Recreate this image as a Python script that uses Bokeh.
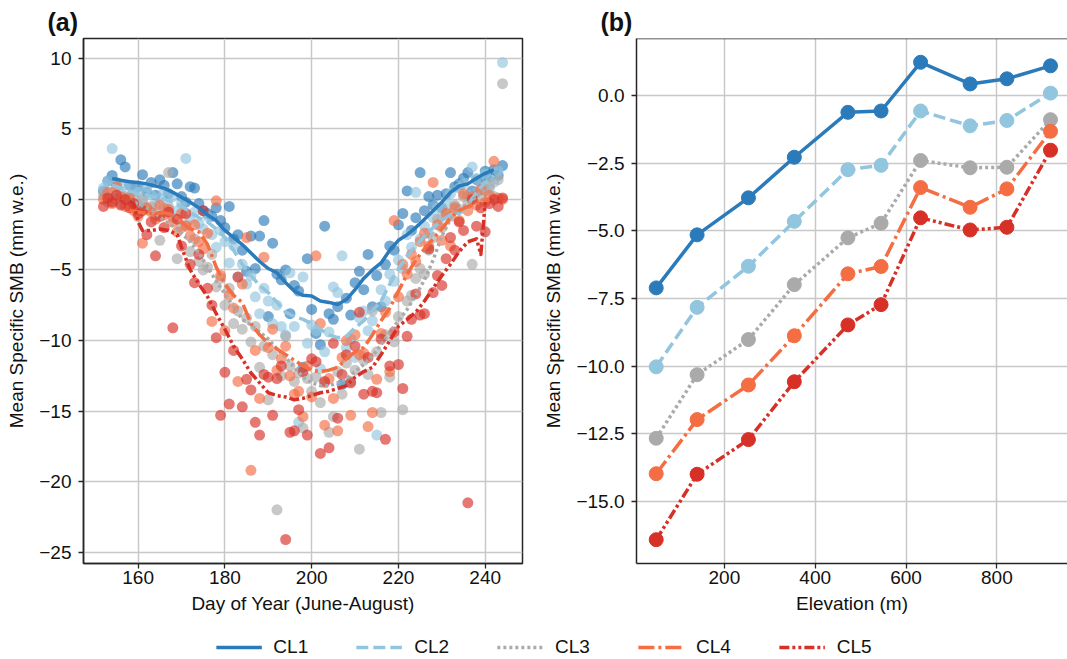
from bokeh.plotting import figure
from bokeh.layouts import column, row
from bokeh.models import (Legend, LegendItem, Range1d, FixedTicker,
                          CustomJSTickFormatter, Span)
from bokeh.embed import file_html
from bokeh.resources import INLINE

# ---------------- data ----------------
CLUSTERS = ["CL1", "CL2", "CL3", "CL4", "CL5"]
COLORS = ["#2b7bba", "#92c5de", "#aaaaaa", "#f46d43", "#d73027"]
DASHES = ["solid", "12 5", "3 3", "16 4 3 4", "10 3 3 3 3 3"]

# panel (a): daily scatter, day of year 152..244
DAY = list(range(152, 245))
cl1_pts = [0.6, 1.3, 1.7, 1.2, 2.8, 2.3, 1.0, 0.7, 0.9, 1.75, 0.5, 1.2, 0.3, 1.4, 1.0, 0.4, 1.9, 1.1,
           0.2, -0.2, 0.9, 0.8, -0.3, -0.8, -1.0, -1.2, -0.6, -1.5, -2.0, -0.5, -2.8, -2.5, -3.6, -5.1,
           -2.6, -4.9, -2.6, -1.5, -8.3, -3.1, -5.3, -5.7, -5.0, -8.1, -6.1, -6.5, -11.9, -4.2, -7.8,
           -9.5, -10.3, -1.9, -8.1, -8.5, -7.6, -13.1, -7.0, -8.2, -5.9, -5.1, -6.4, -3.9, -7.6, -5.4,
           -7.6, -4.6, -3.3, -3.6, -1.8, -1.0, 0.6, -2.2, -1.3, 1.9, -0.8, 0.2, -0.4, 0.3, -0.6, 0.4,
           1.9, 0.9, 1.1, 1.5, 1.9, 0.6, 1.4, 1.3, 2.0, 1.6, 2.1, 1.7, 2.4]
cl2_pts = [0.8, 1.3, 3.6, 1.1, 0.4, 1.0, 0.2, 0.7, 0.5, -0.2, 0.9, 0.3, -0.4, 0.1, 0.6, -0.5, 0.2,
           -0.8, -0.3, 2.9, -1.4, -0.9, -1.7, -2.1, -1.2, -2.5, -3.4, -2.2, -3.0, -4.5, -3.3, -5.5,
           -4.6, -6.0, -5.4, -6.9, -8.1, -6.3, -7.2, -8.8, -7.5, -9.0, -9.6, -5.2, -9.0, -15.8, -5.5,
           -10.2, -8.9, -9.3, -12.0, -10.8, -9.4, -6.2, -6.6, -4.0, -10.5, -9.9, -11.2, -8.4, -7.9,
           -9.3, -8.6, -16.7, -6.4, -7.2, -5.3, -5.8, -4.3, -4.9, -2.5, -3.4, 0.5, -2.8, -1.9, -2.4,
           -1.3, -0.6, -1.2, -0.2, 0.4, -0.5, 0.8, 1.1, 0.3, 2.3, 1.5, 0.9, 1.8, 0.8, 1.2, 2.0, 9.7]
cl3_pts = [0.3, -0.2, 0.5, 0.0, -0.3, 0.2, -0.1, 0.1, -0.4, 0.0, -0.7, -0.5, -1.1, -2.9, -0.6, 1.9,
           -1.3, -4.2, -2.0, -1.8, -3.7, -2.8, -4.4, -5.0, -4.8, -3.9, -6.2, -5.6, -7.5, -6.3, -8.8,
           -7.9, -9.2, -8.4, -10.1, -9.0, -11.9, -10.4, -14.2, -11.0, -22.0, -12.5, -9.7, -11.8, -12.9,
           -12.3, -16.2, -12.7, -13.6, -12.6, -14.4, -13.0, -16.5, -15.4, -12.2, -13.8, -11.6, -12.9,
           -12.1, -17.7, -11.4, -12.4, -7.9, -10.8, -15.1, -9.6, -12.6, -10.1, -8.3, -14.9, -7.2, -6.8,
           -5.6, -4.9, -5.3, -3.6, -2.7, -1.4, -2.0, -0.9, -1.2, -0.4, -0.7, 0.2, -0.3, -4.6, 0.5, 0.1,
           0.6, 1.0, 0.2, 1.4, 8.2]
cl4_pts = [0.0, 0.5, -0.3, 0.9, 0.2, -0.5, 0.1, -0.8, -1.2, -3.1, -0.6, -0.9, -1.4, -0.4, -1.1, -0.7,
           -1.6, -2.3, -1.0, -1.9, -2.6, -1.8, -3.0, -3.5, -2.4, -8.65, -0.1, -5.4, -9.3, -6.8, -7.7,
           -12.9, -6.0, -2.7, -19.2, -10.7, -14.1, -4.1, -10.5, -9.2, -12.1, -11.3, -10.4, -12.5, -13.8,
           -13.6, -15.4, -11.8, -14.0, -4.0, -8.8, -16.0, -12.7, -14.1, -16.4, -11.2, -10.0, -15.3,
           -9.6, -11.0, -10.9, -16.1, -15.1, -12.75, -9.5, -8.0, -12.2, -1.5, -6.9, -4.6, -5.3, -3.9,
           -4.4, -3.0, -2.4, -3.3, 1.2, -1.8, -2.9, -1.0, -3.3, -0.6, -1.5, 0.4, -0.8, 0.2, -0.4, 0.7,
           -0.2, 0.3, 2.7, 0.1, 0.0]
cl5_pts = [-0.5, 0.1, -0.2, 0.3, -0.4, 0.0, -0.6, -0.3, -1.0, -0.8, -2.5, -1.6, -4.0, -1.2, -2.0,
           -0.9, -9.1, -1.4, -3.3, -1.0, -4.6, -5.9, -3.9, -0.8, -6.3, -7.5, -9.8, -15.3, -12.25,
           -14.5, -10.7, -5.5, -14.7, -12.75, -13.5, -15.8, -16.7, -12.4, -12.6, -15.3, -12.7, -11.8,
           -24.1, -16.5, -16.4, -14.9, -12.2, -16.7, -11.3, -11.5, -18.0, -12.9, -17.6, -10.2, -15.5,
           -12.4, -11.0, -13.0, -10.4, -8.0, -13.8, -11.2, -13.6, -13.7, -9.9, -17.0, -11.8, -9.4,
           -11.7, -13.4, -9.7, -8.5, -6.7, -8.2, -8.1, -3.5, -6.6, -5.4, -6.1, -4.2, -2.7, -3.6, -1.6,
           -2.2, -21.5, 0.0, -1.9, -0.6, -2.3, -0.3, 0.0, -0.5, 0.1]

# panel (a): smoothed lines
cl1_line_day = [154, 156, 158, 160, 162, 164, 166, 168, 170, 172, 174, 176, 178, 180, 182, 184, 186,
                188, 190, 192, 194, 196, 198, 200, 202, 204, 206, 208, 210, 212, 214, 216, 218, 220,
                222, 224, 226, 228, 230, 232, 234, 236, 238, 240, 242]
cl1_line = [1.47, 1.35, 1.25, 1.2, 1.1, 0.95, 0.8, 0.5, 0.15, -0.2, -0.6, -1.1, -1.5, -2.2, -2.7,
            -3.2, -3.8, -4.4, -4.9, -5.2, -5.9, -6.5, -6.8, -6.85, -7.2, -7.3, -7.45, -7.1, -6.4,
            -5.6, -5.0, -4.5, -3.6, -2.9, -2.5, -2.0, -1.4, -0.8, -0.2, 0.5, 0.95, 1.1, 1.5, 1.85, 2.1]
cl2_line_day = [154, 156, 158, 160, 162, 164, 166, 168, 170, 172, 174, 176, 178, 180, 182, 184, 186,
                188, 190, 192, 194, 196, 198, 200, 202, 204, 206, 208, 210, 212, 214, 216, 218, 220,
                222, 224, 226, 228, 230, 232, 234, 236, 238, 240, 242]
cl2_line = [1.0, 0.8, 0.6, 0.4, 0.3, 0.15, 0.0, -0.2, -0.5, -0.9, -1.3, -1.6, -2.1, -2.7, -3.6,
            -4.6, -5.4, -6.1, -6.6, -7.3, -8.0, -8.3, -8.5, -8.8, -9.2, -9.6, -9.8, -9.7, -9.1, -8.6,
            -7.9, -7.2, -6.0, -4.9, -4.0, -3.3, -2.6, -2.0, -1.5, -1.1, -1.0, -0.4, 0.5, 1.2, 1.7]
cl3_line_day = [158, 160, 162, 164, 166, 168, 170, 172, 174, 176, 178, 180, 182, 184, 186, 188, 190,
                192, 194, 196, 198, 200, 202, 204, 206, 208, 210, 212, 214, 216, 218, 220, 222, 224,
                226, 228, 230, 232, 234, 236, 238, 240, 241]
cl3_line = [-0.1, -0.3, -0.6, -1.0, -1.5, -1.9, -2.4, -3.0, -3.8, -4.8, -5.8, -6.7, -7.6, -8.5,
            -8.9, -9.4, -9.9, -10.6, -11.2, -11.9, -12.6, -13.0, -13.2, -13.2, -13.0, -12.7, -12.2,
            -11.7, -11.1, -10.3, -9.4, -8.6, -7.8, -6.8, -5.7, -4.3, -2.6, -1.4, -0.7, -0.3, 0.2, 0.7,
            1.35]
cl4_line_day = [158, 160, 162, 164, 166, 168, 170, 172, 174, 176, 178, 180, 182, 184, 186, 188, 190,
                192, 194, 196, 198, 200, 202, 204, 206, 208, 210, 212, 214, 216, 218, 220, 222, 224,
                226, 228, 230, 232, 234, 236, 238, 240, 241]
cl4_line = [-0.8, -0.9, -1.0, -1.0, -0.95, -1.1, -1.6, -2.1, -2.3, -3.2, -4.8, -6.0, -6.8, -7.3,
            -8.8, -9.6, -10.2, -10.6, -11.0, -11.4, -11.8, -12.1, -12.2, -12.1, -11.9, -11.3, -10.8,
            -10.5, -9.6, -8.6, -7.7, -6.5, -5.3, -4.3, -3.5, -2.8, -2.1, -1.3, -0.8, -0.5, -0.3, -0.1,
            0.0]
cl5_line_day = [158, 159, 160, 161, 163, 165, 167, 169, 170, 172, 174, 176, 178, 180, 182, 184, 186,
                188, 190, 192, 194, 196, 198, 200, 202, 204, 206, 208, 210, 212, 214, 216, 218, 220,
                222, 224, 226, 228, 230, 232, 234, 236, 238, 239, 240]
cl5_line = [-0.1, -0.3, -1.6, -2.2, -2.2, -2.1, -2.2, -2.5, -3.4, -5.0, -6.0, -6.9, -8.1, -9.2,
            -10.4, -11.3, -12.3, -13.0, -13.7, -13.9, -14.0, -14.2, -14.1, -13.9, -13.7, -13.6, -13.4,
            -13.2, -12.6, -12.2, -11.9, -11.0, -10.0, -9.0, -8.5, -8.0, -7.2, -6.3, -5.4, -4.6, -3.7,
            -3.0, -2.8, -3.9, -0.2]

# panel (b): mean specific SMB by elevation band
ELEV = [50, 140, 253, 354, 472, 545, 632, 741, 822, 918]
cl1_elev = [-7.11, -5.15, -3.78, -2.28, -0.62, -0.57, 1.23, 0.43, 0.62, 1.10]
cl2_elev = [-10.03, -7.83, -6.31, -4.65, -2.74, -2.58, -0.57, -1.12, -0.92, 0.09]
cl3_elev = [-12.67, -10.32, -9.02, -6.99, -5.26, -4.72, -2.40, -2.67, -2.65, -0.89]
cl4_elev = [-13.98, -11.98, -10.70, -8.88, -6.59, -6.32, -3.40, -4.13, -3.45, -1.32]
cl5_elev = [-16.42, -14.00, -12.72, -10.58, -8.48, -7.73, -4.52, -4.97, -4.87, -2.02]

A_TICKS_X = [160, 180, 200, 220, 240]
A_TICKS_Y = [10, 5, 0, -5, -10, -15, -20, -25]
B_TICKS_X = [200, 400, 600, 800]
B_TICKS_Y = [0.0, -2.5, -5.0, -7.5, -10.0, -12.5, -15.0]

# ---------------- styling helpers ----------------
FONT = "Liberation Sans"
TICK_FS = "19px"
LABEL_FS = "19px"
DARK = "#262626"


def style(p, xticks, yticks, xfmt, yfmt, xlabel, ylabel):
    for ax in (p.xaxis[0], p.yaxis[0]):
        ax.axis_line_color = DARK
        ax.axis_line_width = 1.5
        ax.major_tick_line_color = DARK
        ax.major_tick_line_width = 1.3
        ax.major_tick_out = 5
        ax.major_tick_in = 0
        ax.minor_tick_line_color = None
        ax.major_label_text_font = FONT
        ax.major_label_text_font_size = TICK_FS
        ax.major_label_text_color = "#111111"
        ax.axis_label_text_font = FONT
        ax.axis_label_text_font_size = LABEL_FS
        ax.axis_label_text_font_style = "normal"
        ax.axis_label_text_color = "#111111"
    p.xaxis[0].ticker = FixedTicker(ticks=xticks)
    p.yaxis[0].ticker = FixedTicker(ticks=yticks)
    p.xaxis[0].formatter = xfmt
    p.yaxis[0].formatter = yfmt
    p.xaxis[0].axis_label = xlabel
    p.yaxis[0].axis_label = ylabel
    p.xaxis[0].major_label_standoff = 2
    p.yaxis[0].major_label_standoff = 7
    p.xaxis[0].axis_label_standoff = 6
    p.yaxis[0].axis_label_standoff = 9
    p.xgrid.grid_line_color = "#c8c8c8"
    p.ygrid.grid_line_color = "#c8c8c8"
    p.xgrid.grid_line_width = 1.5
    p.ygrid.grid_line_width = 1.5
    p.background_fill_color = "white"
    p.border_fill_color = "white"
    p.title.text_font = FONT
    p.title.text_font_size = "25px"
    p.title.text_font_style = "bold"
    p.title.text_color = "#111111"
    p.title.align = "left"
    p.title.standoff = 6
    p.title.offset = -36


def minus_fmt(digits):
    return CustomJSTickFormatter(
        code="return (tick < -1e-9 ? '\u2212' : '') + Math.abs(tick).toFixed(%d);" % digits)


H = 628

# ---------------- panel (a) ----------------
pa = figure(width=540, height=H, output_backend="svg", toolbar_location=None,
            x_range=Range1d(147.4, 248.6), y_range=Range1d(-25.8, 11.4),
            min_border_left=83, min_border_right=18, min_border_top=38, min_border_bottom=65,
            title="(a)")
pa.outline_line_color = DARK
pa.outline_line_width = 1.5
style(pa, A_TICKS_X, A_TICKS_Y, minus_fmt(0), minus_fmt(0), "Day of Year (June-August)",
      "Mean Specific SMB (mm w.e.)")

pts = [cl1_pts, cl2_pts, cl3_pts, cl4_pts, cl5_pts]
line_days = [cl1_line_day, cl2_line_day, cl3_line_day, cl4_line_day, cl5_line_day]
line_vals = [cl1_line, cl2_line, cl3_line, cl4_line, cl5_line]
for vals, c in zip(pts, COLORS):
    pa.scatter(DAY, vals, size=11, fill_color=c, line_color=None, fill_alpha=0.65)
for d, v, c, dash in zip(line_days, line_vals, COLORS, DASHES):
    pa.line(d, v, line_color=c, line_width=3.5, line_dash=dash, line_join="round")

# ---------------- panel (b) ----------------
B_YMAX = 2.11
pb = figure(width=527, height=H, output_backend="svg", toolbar_location=None,
            x_range=Range1d(6.6, 955.4), y_range=Range1d(-17.3, B_YMAX),
            min_border_left=92, min_border_right=0, min_border_top=38, min_border_bottom=65,
            title="(b)")
pb.outline_line_color = None
style(pb, B_TICKS_X, B_TICKS_Y, minus_fmt(0), minus_fmt(1), "Elevation (m)",
      "Mean Specific SMB (mm w.e.)")
pb.add_layout(Span(location=B_YMAX, dimension="width", line_color=DARK, line_width=1.5))

elev_vals = [cl1_elev, cl2_elev, cl3_elev, cl4_elev, cl5_elev]
for v, c, dash in zip(elev_vals, COLORS, DASHES):
    pb.line(ELEV, v, line_color=c, line_width=3.5, line_dash=dash, line_join="round")
    pb.scatter(ELEV, v, size=14, fill_color=c, line_color=c)

# ---------------- shared legend ----------------
lf = figure(width=1067, height=659 - H, output_backend="svg", toolbar_location=None,
            x_range=Range1d(0, 1), y_range=Range1d(0, 1), min_border=0, min_border_left=20,
            outline_line_color=None)
lf.axis.visible = False
lf.grid.visible = False
items = []
for name, c, dash in zip(CLUSTERS, COLORS, DASHES):
    r = lf.line([-5, -4], [-5, -4], line_color=c, line_width=3.5, line_dash=dash)
    items.append(LegendItem(label=name, renderers=[r]))
leg = Legend(items=items, orientation="horizontal", location="bottom_center",
             glyph_width=46, glyph_height=20, label_standoff=12, spacing=48,
             label_text_font=FONT, label_text_font_size="19px", label_text_color="#111111",
             border_line_color=None, background_fill_alpha=0, padding=2, margin=1)
lf.add_layout(leg, "center")

layout = column(row(pa, pb), lf)
open("out.html", "w").write(file_html(layout, INLINE))
